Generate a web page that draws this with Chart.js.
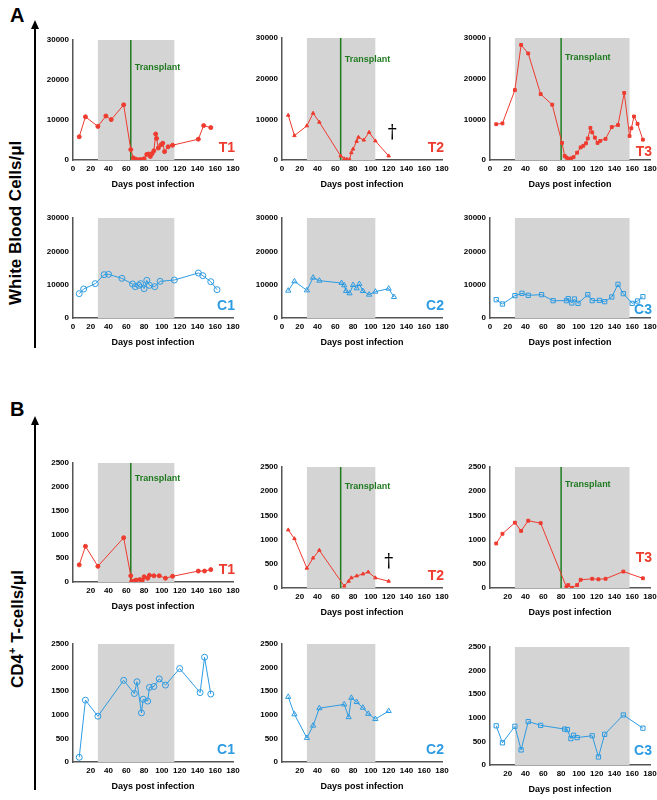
<!DOCTYPE html>
<html>
<head>
<meta charset="utf-8">
<script src="https://cdn.jsdelivr.net/npm/chart.js@4"></script>
<style>
  body { margin: 0; background: #fff; font-family: "Liberation Sans", Arial, sans-serif; }
  #fig { position: relative; width: 657px; height: 800px; }
  .p { position: absolute; }
  .lbl { position: absolute; font-weight: bold; }
  .vt { position: absolute; transform: rotate(-90deg); transform-origin: left top; font-weight: bold; font-size: 17px; white-space: nowrap; }
  .arrow { position: absolute; width: 1.5px; background: #000; }
  .head { position: absolute; width: 0; height: 0; border-left: 4px solid transparent; border-right: 4px solid transparent; border-bottom: 9px solid #000; }
</style>
</head>
<body>
<div id="fig">
  <div class="lbl" style="left:10px;top:4px;font-size:20px">A</div>
  <div class="lbl" style="left:10px;top:398px;font-size:20px">B</div>
  <div class="arrow" style="left:34px;top:28px;height:320px"></div>
  <div class="head" style="left:31px;top:20px"></div>
  <div class="arrow" style="left:34px;top:424px;height:366px"></div>
  <div class="head" style="left:31px;top:416px"></div>
  <div class="vt" style="left:6px;top:305px">White Blood Cells/μl</div>
  <div class="vt" style="left:6px;top:688px">CD4<sup style="font-size:11px">+</sup> T-cells/μl</div>
</div>
<script>
// x = days post infection, y = cells/ul
const wbcT1x = [7,14,28,37,43,57,65,68,71,75,78,80,83,85,87,89,91,93,94,96,99,101,103,107,112,141,147,155];
const wbcT1y = [5800,10800,8400,11000,10100,13800,2600,500,200,100,100,300,1400,1500,900,1600,2300,6500,5400,3000,3800,4200,2100,3300,3700,5200,8600,8100];
const wbcT2x = [7,14,28,35,42,66,70,73,76,78,80,84,86,92,98,105,120];
const wbcT2y = [11000,6000,8400,11500,9300,1000,300,200,100,1800,2700,4600,5600,4900,6800,4700,1000];
const wbcT3x = [7,14,28,35,43,57,70,81,84,86,88,91,94,98,102,105,108,110,113,115,118,121,124,130,137,144,151,157,159,162,166,172];
const wbcT3y = [8800,9000,17200,28300,26200,16200,13600,4200,1000,600,300,400,700,1800,3100,3500,4100,5300,7900,6800,5500,4200,4700,5200,8100,8600,16500,5900,7800,10700,8900,5000];
const wbcC1x = [7,12,25,35,40,55,67,70,74,76,80,83,86,92,98,114,141,146,155,162];
const wbcC1y = [7300,8700,10300,13000,13100,11900,10200,9400,9800,10300,8800,11300,9800,9400,11000,11400,13500,12700,10900,8500];
const wbcC2x = [7,14,28,35,42,67,70,72,76,80,84,87,91,98,105,120,126];
const wbcC2y = [8200,11000,8300,12100,11200,10500,9800,8100,7400,9900,8900,10200,8100,7000,7900,8800,6300];
const wbcC3x = [7,14,28,36,43,58,71,86,88,92,95,99,110,115,123,129,137,144,150,160,166,172];
const wbcC3y = [5500,4200,6700,7400,6800,7000,5200,5200,5800,4500,5700,4400,7000,5200,5300,4900,6300,10100,7300,4400,5100,6400];

const cd4T1x = [7,14,28,57,65,66,69,71,75,78,80,84,86,91,97,104,112,141,148,155];
const cd4T1y = [360,750,330,930,130,10,20,40,50,40,110,80,140,130,130,80,120,230,230,260];
const cd4T2x = [7,14,28,35,42,70,75,78,84,91,97,105,120];
const cd4T2y = [1200,1020,410,620,780,40,140,210,250,290,330,210,140];
const cd4T3x = [7,14,28,35,43,57,86,88,92,98,102,115,122,130,150,172];
const cd4T3y = [920,1120,1350,1180,1390,1340,20,60,5,60,170,190,180,190,340,200];
const cd4C1x = [7,14,28,57,69,72,77,79,84,86,91,97,104,120,143,148,155];
const cd4C1y = [100,1310,970,1730,1450,1700,1040,1330,1290,1580,1600,1760,1630,1980,1470,2220,1440];
const cd4C2x = [7,14,28,35,42,70,75,78,84,91,97,105,120];
const cd4C2y = [1380,1010,510,770,1140,1220,950,1360,1270,1150,1020,910,1080];
const cd4C3x = [7,14,28,35,43,57,84,87,91,94,98,115,122,129,150,172];
const cd4C3y = [830,470,820,320,920,840,760,750,560,630,580,620,170,650,1060,780];

const xTicks = [0,20,40,60,80,100,120,140,160,180];
const wbcTicks = [0,10000,20000,30000];
const cd4Ticks = [0,500,1000,1500,2000,2500];
const treatT1 = [28,114], treatT2 = [28,105], treatT3 = [28,157];
const transplantDays = { T1: 65, T2: 66, T3: 80 };

const RED = "#ee3b2f", BLUE = "#2d9be2", GREEN = "#1f7a1f", GREY = "#d4d4d4";

const decor = {
  id: "decor",
  beforeDatasetsDraw(chart, args, o) {
    const { ctx, chartArea: a, scales: { x, y } } = chart;
    ctx.save();
    ctx.fillStyle = GREY;
    const x1 = x.getPixelForValue(o.band[0]), x2 = x.getPixelForValue(o.band[1]);
    ctx.fillRect(x1, a.top, x2 - x1, a.bottom - a.top);
    if (o.transplant) {
      const tx = x.getPixelForValue(o.transplant);
      ctx.strokeStyle = GREEN; ctx.lineWidth = 1.5;
      ctx.beginPath(); ctx.moveTo(tx, a.top); ctx.lineTo(tx, a.bottom); ctx.stroke();
      ctx.fillStyle = GREEN; ctx.font = "bold 9px 'Liberation Sans'";
      ctx.fillText("Transplant", tx + 4, a.top + o.tY);
    }
    ctx.restore();
  },
  afterDatasetsDraw(chart, args, o) {
    const { ctx, chartArea: a, scales: { x, y } } = chart;
    ctx.save();
    ctx.fillStyle = o.color; ctx.font = "bold 14px 'Liberation Sans'";
    ctx.textAlign = "right";
    ctx.fillText(o.name, a.right + 2, a.bottom - (o.nameUp || 8));
    if (o.dagger) {
      ctx.fillStyle = "#000"; ctx.font = "18px 'DejaVu Serif'"; ctx.textAlign = "center";
      ctx.fillText("†", x.getPixelForValue(o.dagger[0]), y.getPixelForValue(o.dagger[1]));
    }
    ctx.restore();
  }
};

function panel(left, top, bottom, xs, ys, cfg) {
  const fig = document.getElementById("fig");
  const H = bottom - top + 6 + 34;
  const div = document.createElement("div");
  div.className = "p";
  div.style.left = (left - 40) + "px"; div.style.top = (top - 6) + "px";
  div.style.width = "220px"; div.style.height = H + "px";
  const cv = document.createElement("canvas");
  div.appendChild(cv); fig.appendChild(div);
  const filled = cfg.color === RED;
  const tickFont = { size: 8, weight: "bold", family: "Liberation Sans" };
  new Chart(cv, {
    type: "line",
    data: { datasets: [{
      data: xs.map((v, i) => ({ x: v, y: ys[i] })),
      borderColor: cfg.color, borderWidth: 1,
      pointStyle: cfg.shape, pointRadius: filled ? 2 : 3,
      pointBackgroundColor: filled ? cfg.color : "rgba(255,255,255,0)",
      pointBorderColor: cfg.color, pointBorderWidth: 1, tension: 0
    }]},
    options: {
      responsive: true, maintainAspectRatio: false, animation: false,
      layout: { padding: { top: 6, right: 20 } },
      plugins: { legend: { display: false }, tooltip: { enabled: false },
        decor: { band: cfg.band, transplant: cfg.transplant, tY: cfg.tY || 26, name: cfg.name, nameUp: cfg.nameUp, color: cfg.color, dagger: cfg.dagger } },
      scales: {
        x: { type: "linear", min: 0, max: 180,
          afterBuildTicks: s => { s.ticks = (cfg.noZero ? xTicks.slice(1) : xTicks).map(v => ({ value: v })); },
          grid: { display: false, drawTicks: true, tickLength: 3, color: "#000" },
          border: { color: "#555", width: 1.5 },
          ticks: { color: "#000", font: tickFont, padding: 1, maxRotation: 0, autoSkip: false, callback: v => String(v) },
          title: { display: true, text: "Days post infection", color: "#000", font: { size: 9, weight: "bold", family: "Liberation Sans" }, padding: { top: 3 } },
          afterFit: s => { s.height = 34; } },
        y: { min: 0, max: cfg.ymax,
          afterBuildTicks: s => { s.ticks = cfg.yTicks.map(v => ({ value: v })); },
          grid: { display: false, tickLength: 3, color: "#000" },
          border: { color: "#555", width: 1.5 },
          ticks: { color: "#000", font: tickFont, padding: 1, autoSkip: false, callback: v => String(v) },
          afterFit: s => { s.width = 40; } }
      }
    },
    plugins: [decor]
  });
}

const AX = [73, 282, 490];
panel(AX[0], 40, 160, wbcT1x, wbcT1y, { color: RED, shape: "circle", band: treatT1, transplant: transplantDays.T1, name: "T1", ymax: 30000, yTicks: wbcTicks, tY: 30 });
panel(AX[1], 38, 160, wbcT2x, wbcT2y, { color: RED, shape: "triangle", band: treatT2, transplant: transplantDays.T2, name: "T2", ymax: 30000, yTicks: wbcTicks, tY: 24, dagger: [124, 5500] });
panel(AX[2], 38, 160, wbcT3x, wbcT3y, { color: RED, shape: "rect", band: treatT3, transplant: transplantDays.T3, name: "T3", ymax: 30000, yTicks: wbcTicks, tY: 22, nameUp: 4 });
panel(AX[0], 218, 318, wbcC1x, wbcC1y, { color: BLUE, shape: "circle", band: treatT1, name: "C1", ymax: 30000, yTicks: wbcTicks });
panel(AX[1], 218, 318, wbcC2x, wbcC2y, { color: BLUE, shape: "triangle", band: treatT2, name: "C2", ymax: 30000, yTicks: wbcTicks });
panel(AX[2], 218, 318, wbcC3x, wbcC3y, { color: BLUE, shape: "rect", band: treatT3, name: "C3", ymax: 30000, yTicks: wbcTicks, nameUp: 4 });
panel(AX[0], 463, 582, cd4T1x, cd4T1y, { color: RED, shape: "circle", band: treatT1, transplant: transplantDays.T1, name: "T1", ymax: 2500, yTicks: cd4Ticks, tY: 18, noZero: true });
panel(AX[1], 467, 588, cd4T2x, cd4T2y, { color: RED, shape: "triangle", band: treatT2, transplant: transplantDays.T2, name: "T2", ymax: 2500, yTicks: cd4Ticks, tY: 22, noZero: true, dagger: [120, 430] });
panel(AX[2], 467, 588, cd4T3x, cd4T3y, { color: RED, shape: "rect", band: treatT3, transplant: transplantDays.T3, name: "T3", ymax: 2500, yTicks: cd4Ticks, tY: 20, noZero: true, nameUp: 26 });
panel(AX[0], 644, 762, cd4C1x, cd4C1y, { color: BLUE, shape: "circle", band: treatT1, name: "C1", ymax: 2500, yTicks: cd4Ticks, noZero: true });
panel(AX[1], 644, 762, cd4C2x, cd4C2y, { color: BLUE, shape: "triangle", band: treatT2, name: "C2", ymax: 2500, yTicks: cd4Ticks, noZero: true });
panel(AX[2], 647, 765, cd4C3x, cd4C3y, { color: BLUE, shape: "rect", band: treatT3, name: "C3", ymax: 2500, yTicks: cd4Ticks, noZero: true, nameUp: 10 });
</script>
</body>
</html>
